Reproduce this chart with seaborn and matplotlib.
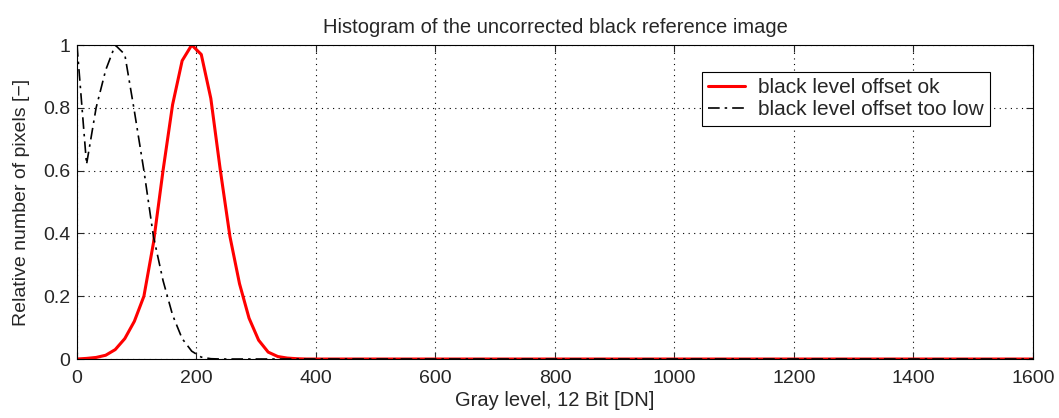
import pandas as pd
import seaborn as sns
import matplotlib.pyplot as plt

# Data
gray_ok = [0, 16, 32, 48, 64, 80, 96, 112, 128, 144, 160, 176, 192, 208,
           224, 240, 256, 272, 288, 304, 320, 336, 352, 368, 384, 1600]
rel_ok = [0.0, 0.002, 0.005, 0.012, 0.03, 0.065, 0.12, 0.2, 0.37, 0.6, 0.81,
          0.95, 1.0, 0.97, 0.83, 0.6, 0.39, 0.24, 0.13, 0.06, 0.022, 0.008,
          0.003, 0.001, 0.0, 0.0]

gray_low = [0, 16, 32, 48, 64, 80, 96, 112, 128, 144, 160, 176, 192, 208,
            224, 240, 1600]
rel_low = [1.0, 0.62, 0.8, 0.92, 1.0, 0.97, 0.79, 0.6, 0.39, 0.25, 0.14,
           0.065, 0.025, 0.006, 0.001, 0.0, 0.0]

label_ok = "black level offset ok"
label_low = "black level offset too low"

df_ok = pd.DataFrame({"gray": gray_ok, "rel": rel_ok})
df_low = pd.DataFrame({"gray": gray_low, "rel": rel_low})

sns.set_style("ticks")
plt.rcParams["font.family"] = ["Liberation Sans", "DejaVu Sans"]
plt.rcParams["xtick.direction"] = "in"
plt.rcParams["ytick.direction"] = "in"

fig = plt.figure(figsize=(10.59, 4.18), dpi=100)
ax = fig.add_axes([0.0727, 0.1411, 0.9027, 0.7512])

sns.lineplot(data=df_ok, x="gray", y="rel", color="red", linewidth=2.2,
             label=label_ok, ax=ax, zorder=2)
sns.lineplot(data=df_low, x="gray", y="rel", color="black", linewidth=1.2,
             label=label_low, ax=ax, zorder=3, dashes=False)
ax.lines[1].set_dashes([7, 3, 1.5, 3])

ax.set_xlim(0, 1600)
ax.set_ylim(0, 1)
ax.set_xticks(range(0, 1601, 200))
ax.set_yticks([0, 0.2, 0.4, 0.6, 0.8, 1])
ax.set_yticklabels(["0", "0.2", "0.4", "0.6", "0.8", "1"])
ax.tick_params(labelsize=14, top=True, right=True, length=5, width=0.8)
ax.tick_params(axis="x", pad=8)
ax.tick_params(axis="y", pad=5)
ax.grid(True, linestyle=(0, (1, 4)), color="black", linewidth=0.8)
for s in ax.spines.values():
    s.set_linewidth(0.8)
    s.set_color("black")

ax.set_title("Histogram of the uncorrected black reference image", fontsize=14.5, pad=9)
ax.set_xlabel("Gray level, 12 Bit [DN]", fontsize=14.5, labelpad=3)
ax.set_ylabel("Relative number of pixels [\u2212]", fontsize=14, labelpad=9)

leg = ax.legend(loc="upper right", bbox_to_anchor=(0.955, 0.914), fontsize=15,
                fancybox=False, framealpha=1, edgecolor="black",
                borderpad=0.3, handlelength=1.8, handletextpad=0.6,
                labelspacing=0.15, borderaxespad=0)
leg.get_frame().set_linewidth(0.8)
leg.get_lines()[1].set_dashes([7, 3, 1.5, 3])

plt.savefig("out.png", dpi=100)
